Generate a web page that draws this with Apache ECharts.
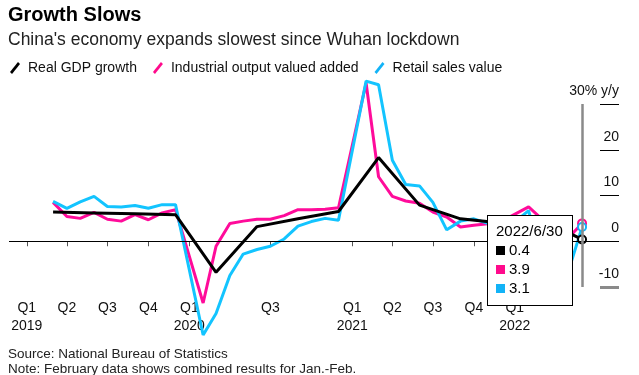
<!DOCTYPE html>
<html>
<head>
<meta charset="utf-8">
<script src="https://cdn.jsdelivr.net/npm/echarts@6/dist/echarts.min.js"></script>
<style>html,body{margin:0;padding:0;background:#fff;}</style>
</head>
<body>
<div id="main" style="width:639px;height:375px;"></div>
<script type="text/javascript">
// monthly points (Jan-Feb combined, shown on Feb)
var months = [
  '2019-03','2019-04','2019-05','2019-06','2019-07','2019-08','2019-09','2019-10','2019-11','2019-12',
  '2020-02','2020-03','2020-04','2020-05','2020-06','2020-07','2020-08','2020-09','2020-10','2020-11','2020-12',
  '2021-02','2021-03','2021-04','2021-05','2021-06','2021-07','2021-08','2021-09','2021-10','2021-11','2021-12',
  '2022-02','2022-03','2022-04','2022-05','2022-06'
];
var industrialOutput = [
  8.5, 5.4, 5.0, 6.3, 4.8, 4.4, 5.8, 4.7, 6.2, 6.9,
  -13.5, -1.1, 3.9, 4.4, 4.8, 4.8, 5.6, 6.9, 6.9, 7.0, 7.3,
  34.6, 14.1, 9.8, 8.8, 8.3, 6.4, 5.3, 3.1, 3.5, 3.8, 4.3,
  7.5, 5.0, -2.9, 0.7, 3.9
];
var retailSales = [
  8.7, 7.2, 8.6, 9.8, 7.6, 7.5, 7.8, 7.2, 8.0, 8.0,
  -20.5, -15.8, -7.5, -2.8, -1.8, -1.1, 0.5, 3.3, 4.3, 5.0, 4.6,
  35.0, 34.2, 17.7, 12.4, 12.1, 8.5, 2.5, 4.4, 4.9, 3.9, 1.7,
  6.7, -3.5, -11.1, -6.7, 3.1
];
// quarterly GDP
var gdpQuarters = [
  '2019-03','2019-06','2019-09','2019-12',
  '2020-03','2020-06','2020-09','2020-12',
  '2021-03','2021-06','2021-09','2021-12',
  '2022-03','2022-06'
];
var gdpGrowth = [6.4, 6.2, 6.0, 5.8, -6.8, 3.2, 4.9, 6.5, 18.3, 7.9, 4.9, 4.0, 4.8, 0.4];

var tickDates = ['2019-01','2019-04','2019-07','2019-10','2020-01','2020-07',
                 '2021-01','2021-04','2021-07','2021-10','2022-01'];
var tickLabels = ['Q1\n2019','Q2','Q3','Q4','Q1\n2020','Q3',
                  'Q1\n2021','Q2','Q3','Q4','Q1\n2022'];

var font = '"Liberation Sans", Arial, sans-serif';
var colors = {gdp: '#000000', ind: '#ff0a8c', ret: '#12b3f7'};
var slash = 'path://M0,10 L8,0 L10,2 L2,12 Z';

function toTime(s) {
  var p = s.split('-');
  return new Date(+p[0], +p[1] - 1, +(p[2] || 1)).getTime();
}
function pairs(dates, values) {
  return dates.map(function (d, i) { return [toTime(d), values[i]]; });
}
var tickTimes = tickDates.map(toTime);

var myChart = echarts.init(document.getElementById('main'));

var option = {
  animation: false,
  backgroundColor: '#fff',
  title: [{
    text: 'Growth Slows', left: 8, top: 5, padding: 0,
    textStyle: {fontFamily: font, fontSize: 20, fontWeight: 'bold', color: '#000'}
  }, {
    text: "China's economy expands slowest since Wuhan lockdown", left: 8, top: 31, padding: 0,
    textStyle: {fontFamily: font, fontSize: 17.5, fontWeight: 'normal', color: '#222'}
  }, {
    text: 'Source: National Bureau of Statistics', left: 8, top: 347, padding: 0,
    textStyle: {fontFamily: font, fontSize: 13.5, fontWeight: 'normal', color: '#222'}
  }, {
    text: 'Note: February data shows combined results for Jan.-Feb.', left: 8, top: 362, padding: 0,
    textStyle: {fontFamily: font, fontSize: 13.5, fontWeight: 'normal', color: '#222'}
  }],
  legend: {
    left: 10, top: 61, padding: 0,
    itemWidth: 10, itemHeight: 12, itemGap: 16,
    icon: slash,
    data: ['Real GDP growth', 'Industrial output valued added', 'Retail sales value'],
    textStyle: {fontFamily: font, fontSize: 14, color: '#111', padding: [0, 0, 0, 3]}
  },
  grid: {left: 9, right: 20, top: 104, bottom: 88},
  tooltip: {
    trigger: 'axis',
    alwaysShowContent: true,
    transitionDuration: 0,
    backgroundColor: '#fff',
    borderColor: '#000',
    borderWidth: 1,
    padding: [5, 9, 8, 8],
    extraCssText: 'box-shadow:none;border-radius:0;',
    textStyle: {fontFamily: font, fontSize: 15, color: '#000'},
    position: [487, 215],
    axisPointer: {type: 'line', lineStyle: {color: '#8a8a8a', width: 2.5, type: 'solid'}},
    formatter: function (params) {
      var d = new Date(params[0].axisValue);
      var end = new Date(d.getFullYear(), d.getMonth() + 1, 0);
      var head = end.getFullYear() + '/' + (end.getMonth() + 1) + '/' + end.getDate();
      var order = ['Real GDP growth', 'Industrial output valued added', 'Retail sales value'];
      var rows = params.slice().sort(function (a, b) {
        return order.indexOf(a.seriesName) - order.indexOf(b.seriesName);
      });
      var html = '<div style="line-height:19px">' + head + '</div>';
      rows.forEach(function (p) {
        html += '<div style="line-height:19px"><span style="display:inline-block;width:9px;height:9px;margin-right:4px;background:' +
          p.color + '"></span>' + p.value[1] + '</div>';
      });
      return html;
    }
  },
  xAxis: {
    type: 'value',
    min: toTime('2018-11-22'),
    max: toTime('2022-08-23'),
    axisLine: {show: false},
    splitLine: {show: false},
    axisTick: {show: true, customValues: tickTimes, length: 5, lineStyle: {color: '#555', width: 1}},
    axisLabel: {
      customValues: tickTimes,
      margin: 12,
      lineHeight: 18,
      fontFamily: font, fontSize: 14, color: '#111',
      formatter: function (val) {
        var i = tickTimes.indexOf(val);
        return i >= 0 ? tickLabels[i] : '';
      }
    }
  },
  yAxis: [{
    type: 'value',
    position: 'right',
    min: -10, max: 30, interval: 10,
    axisLine: {show: false},
    splitLine: {show: false},
    axisTick: {show: true, inside: true, length: 19, customValues: [0, 10, 20, 30],
      lineStyle: {color: '#000', width: 1}},
    axisLabel: {
      inside: true, margin: 0,
      verticalAlign: 'bottom', lineHeight: 16, padding: [0, 0, 5, 0],
      fontFamily: font, fontSize: 14, color: '#111',
      formatter: function (v) { return v === 30 ? '30% y/y' : String(v); }
    }
  }, {
    type: 'value',
    position: 'right',
    min: -10, max: 30, interval: 10,
    axisLine: {show: false},
    splitLine: {show: false},
    axisLabel: {show: false},
    axisTick: {show: true, inside: true, length: 19, customValues: [-10],
      lineStyle: {color: '#8a8a8a', width: 3}}
  }],
  series: [{
    name: 'Industrial output valued added',
    type: 'line',
    data: pairs(months, industrialOutput),
    color: colors.ind,
    clip: false,
    showSymbol: false,
    symbol: 'emptyCircle', symbolSize: 8,
    lineStyle: {width: 3},
    emphasis: {scale: false, lineStyle: {width: 3}},
    markLine: {
      silent: true, symbol: 'none', label: {show: false},
      lineStyle: {color: '#000', width: 1, type: 'solid'},
      data: [{yAxis: 0}]
    }
  }, {
    name: 'Retail sales value',
    type: 'line',
    data: pairs(months, retailSales),
    color: colors.ret,
    clip: false,
    showSymbol: false,
    symbol: 'emptyCircle', symbolSize: 8,
    lineStyle: {width: 3},
    emphasis: {scale: false, lineStyle: {width: 3}}
  }, {
    name: 'Real GDP growth',
    type: 'line',
    data: pairs(gdpQuarters, gdpGrowth),
    color: colors.gdp,
    clip: false,
    showSymbol: false,
    symbol: 'emptyCircle', symbolSize: 8,
    lineStyle: {width: 3},
    emphasis: {scale: false, lineStyle: {width: 3}}
  }]
};
myChart.setOption(option);
myChart.dispatchAction({type: 'showTip', seriesIndex: 2, dataIndex: gdpGrowth.length - 1});
</script>
</body>
</html>
